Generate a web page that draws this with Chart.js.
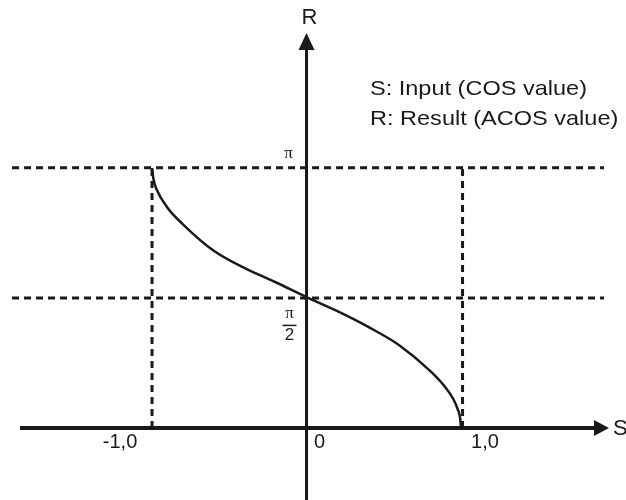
<!DOCTYPE html>
<html>
<head>
<meta charset="utf-8">
<script src="https://cdn.jsdelivr.net/npm/chart.js"></script>
<style>
  html, body { margin: 0; padding: 0; background: #fff; }
  #wrap { width: 626px; height: 500px; }
</style>
</head>
<body>
<div id="wrap"><canvas id="c" width="626" height="500"></canvas></div>
<script>
// ---- data ----
const sValues = [-1, -0.99, -0.97, -0.9, -0.8, -0.6, -0.4, -0.2, 0, 0.2, 0.4, 0.6, 0.8, 0.9, 0.95, 0.98, 0.995, 1];
const rValues = [3.14, 3.00, 2.88, 2.66, 2.46, 2.14, 1.93, 1.76, 1.58, 1.41, 1.22, 1.00, 0.69, 0.49, 0.35, 0.22, 0.11, 0];
const xTickValues = [-1, 0, 1];
const xTickLabels = ['-1,0', '0', '1,0'];
const piValue = 3.1416;
const halfPiValue = 1.5708;
const guideXRange = [-1.906, 1.926];
const legendLines = ['S: Input (COS value)', 'R: Result (ACOS value)'];
const xAxisName = 'S';
const yAxisName = 'R';

const ink = '#1a1a1a';
const dash = { borderColor: ink, borderWidth: 3, borderDash: [7, 5], pointRadius: 0, fill: false, tension: 0 };

const axesPlugin = {
  id: 'axes',
  beforeDatasetsDraw(chart) {
    const ctx = chart.ctx, x = chart.scales.x, y = chart.scales.y;
    const x0 = x.getPixelForValue(0), y0 = y.getPixelForValue(0);
    ctx.save();
    ctx.strokeStyle = ink; ctx.fillStyle = ink;
    // x axis
    ctx.lineWidth = 4;
    ctx.beginPath(); ctx.moveTo(20, y0); ctx.lineTo(596, y0); ctx.stroke();
    ctx.beginPath(); ctx.moveTo(609, y0); ctx.lineTo(594, y0 - 8); ctx.lineTo(594, y0 + 8); ctx.closePath(); ctx.fill();
    // y axis
    ctx.lineWidth = 3;
    ctx.beginPath(); ctx.moveTo(x0, 500); ctx.lineTo(x0, 48); ctx.stroke();
    ctx.beginPath(); ctx.moveTo(x0, 33); ctx.lineTo(x0 - 8, 50); ctx.lineTo(x0 + 8, 50); ctx.closePath(); ctx.fill();
    ctx.restore();
  },
  afterDatasetsDraw(chart) {
    const ctx = chart.ctx, x = chart.scales.x, y = chart.scales.y;
    const x0 = x.getPixelForValue(0), y0 = y.getPixelForValue(0);
    ctx.save();
    ctx.fillStyle = ink;
    ctx.textBaseline = 'middle';
    // axis names
    ctx.font = '22px "Liberation Sans", Arial, sans-serif';
    ctx.textAlign = 'center';
    ctx.fillText(yAxisName, x0 + 3, 18);
    ctx.textAlign = 'left';
    ctx.fillText(xAxisName, 613, y0 + 1);
    // legend text (slightly wide lettering as in the reference)
    ctx.font = '21px "Liberation Sans", Arial, sans-serif';
    ctx.save();
    ctx.translate(370, 0);
    ctx.scale(1.12, 1);
    ctx.fillText(legendLines[0], 0, 89);
    ctx.fillText(legendLines[1], 0, 119);
    ctx.restore();
    // x tick labels
    ctx.font = '20px "Liberation Sans", Arial, sans-serif';
    ctx.textAlign = 'center';
    const offs = [-32, 13, 24];
    xTickValues.forEach((v, i) => {
      ctx.fillText(xTickLabels[i], x.getPixelForValue(v) + offs[i], y0 + 15);
    });
    // y labels: pi and pi/2
    ctx.font = '17px "Liberation Serif", "Times New Roman", serif';
    const yp = y.getPixelForValue(piValue);
    ctx.fillText('\u03C0', x0 - 18, yp - 14);
    const yh = y.getPixelForValue(halfPiValue);
    ctx.fillText('\u03C0', x0 - 17, yh + 16);
    ctx.lineWidth = 1.5; ctx.strokeStyle = ink;
    ctx.beginPath(); ctx.moveTo(x0 - 24, yh + 27.5); ctx.lineTo(x0 - 10, yh + 27.5); ctx.stroke();
    ctx.font = '17px "Liberation Sans", Arial, sans-serif';
    ctx.fillText('2', x0 - 17, yh + 37);
    ctx.restore();
  }
};

new Chart(document.getElementById('c'), {
  type: 'scatter',
  data: {
    datasets: [
      Object.assign({ data: [{ x: guideXRange[0], y: piValue }, { x: guideXRange[1], y: piValue }] }, dash),
      Object.assign({ data: [{ x: guideXRange[0], y: halfPiValue }, { x: guideXRange[1], y: halfPiValue }] }, dash),
      Object.assign({ data: [{ x: -1, y: 0 }, { x: -1, y: piValue }] }, dash),
      Object.assign({ data: [{ x: 1.01, y: 0 }, { x: 1.01, y: piValue }] }, dash),
      {
        data: sValues.map((s, i) => ({ x: s, y: rValues[i] })),
        borderColor: ink, borderWidth: 2.5, pointRadius: 0, fill: false,
        cubicInterpolationMode: 'monotone'
      }
    ]
  },
  options: {
    responsive: false,
    animation: false,
    showLine: true,
    layout: { padding: 0 },
    plugins: { legend: { display: false }, tooltip: { enabled: false } },
    scales: {
      x: { type: 'linear', display: false, min: -1.984, max: 2.068 },
      y: { type: 'linear', display: false, min: -0.870, max: 5.169 }
    }
  },
  plugins: [axesPlugin]
});
</script>
</body>
</html>
